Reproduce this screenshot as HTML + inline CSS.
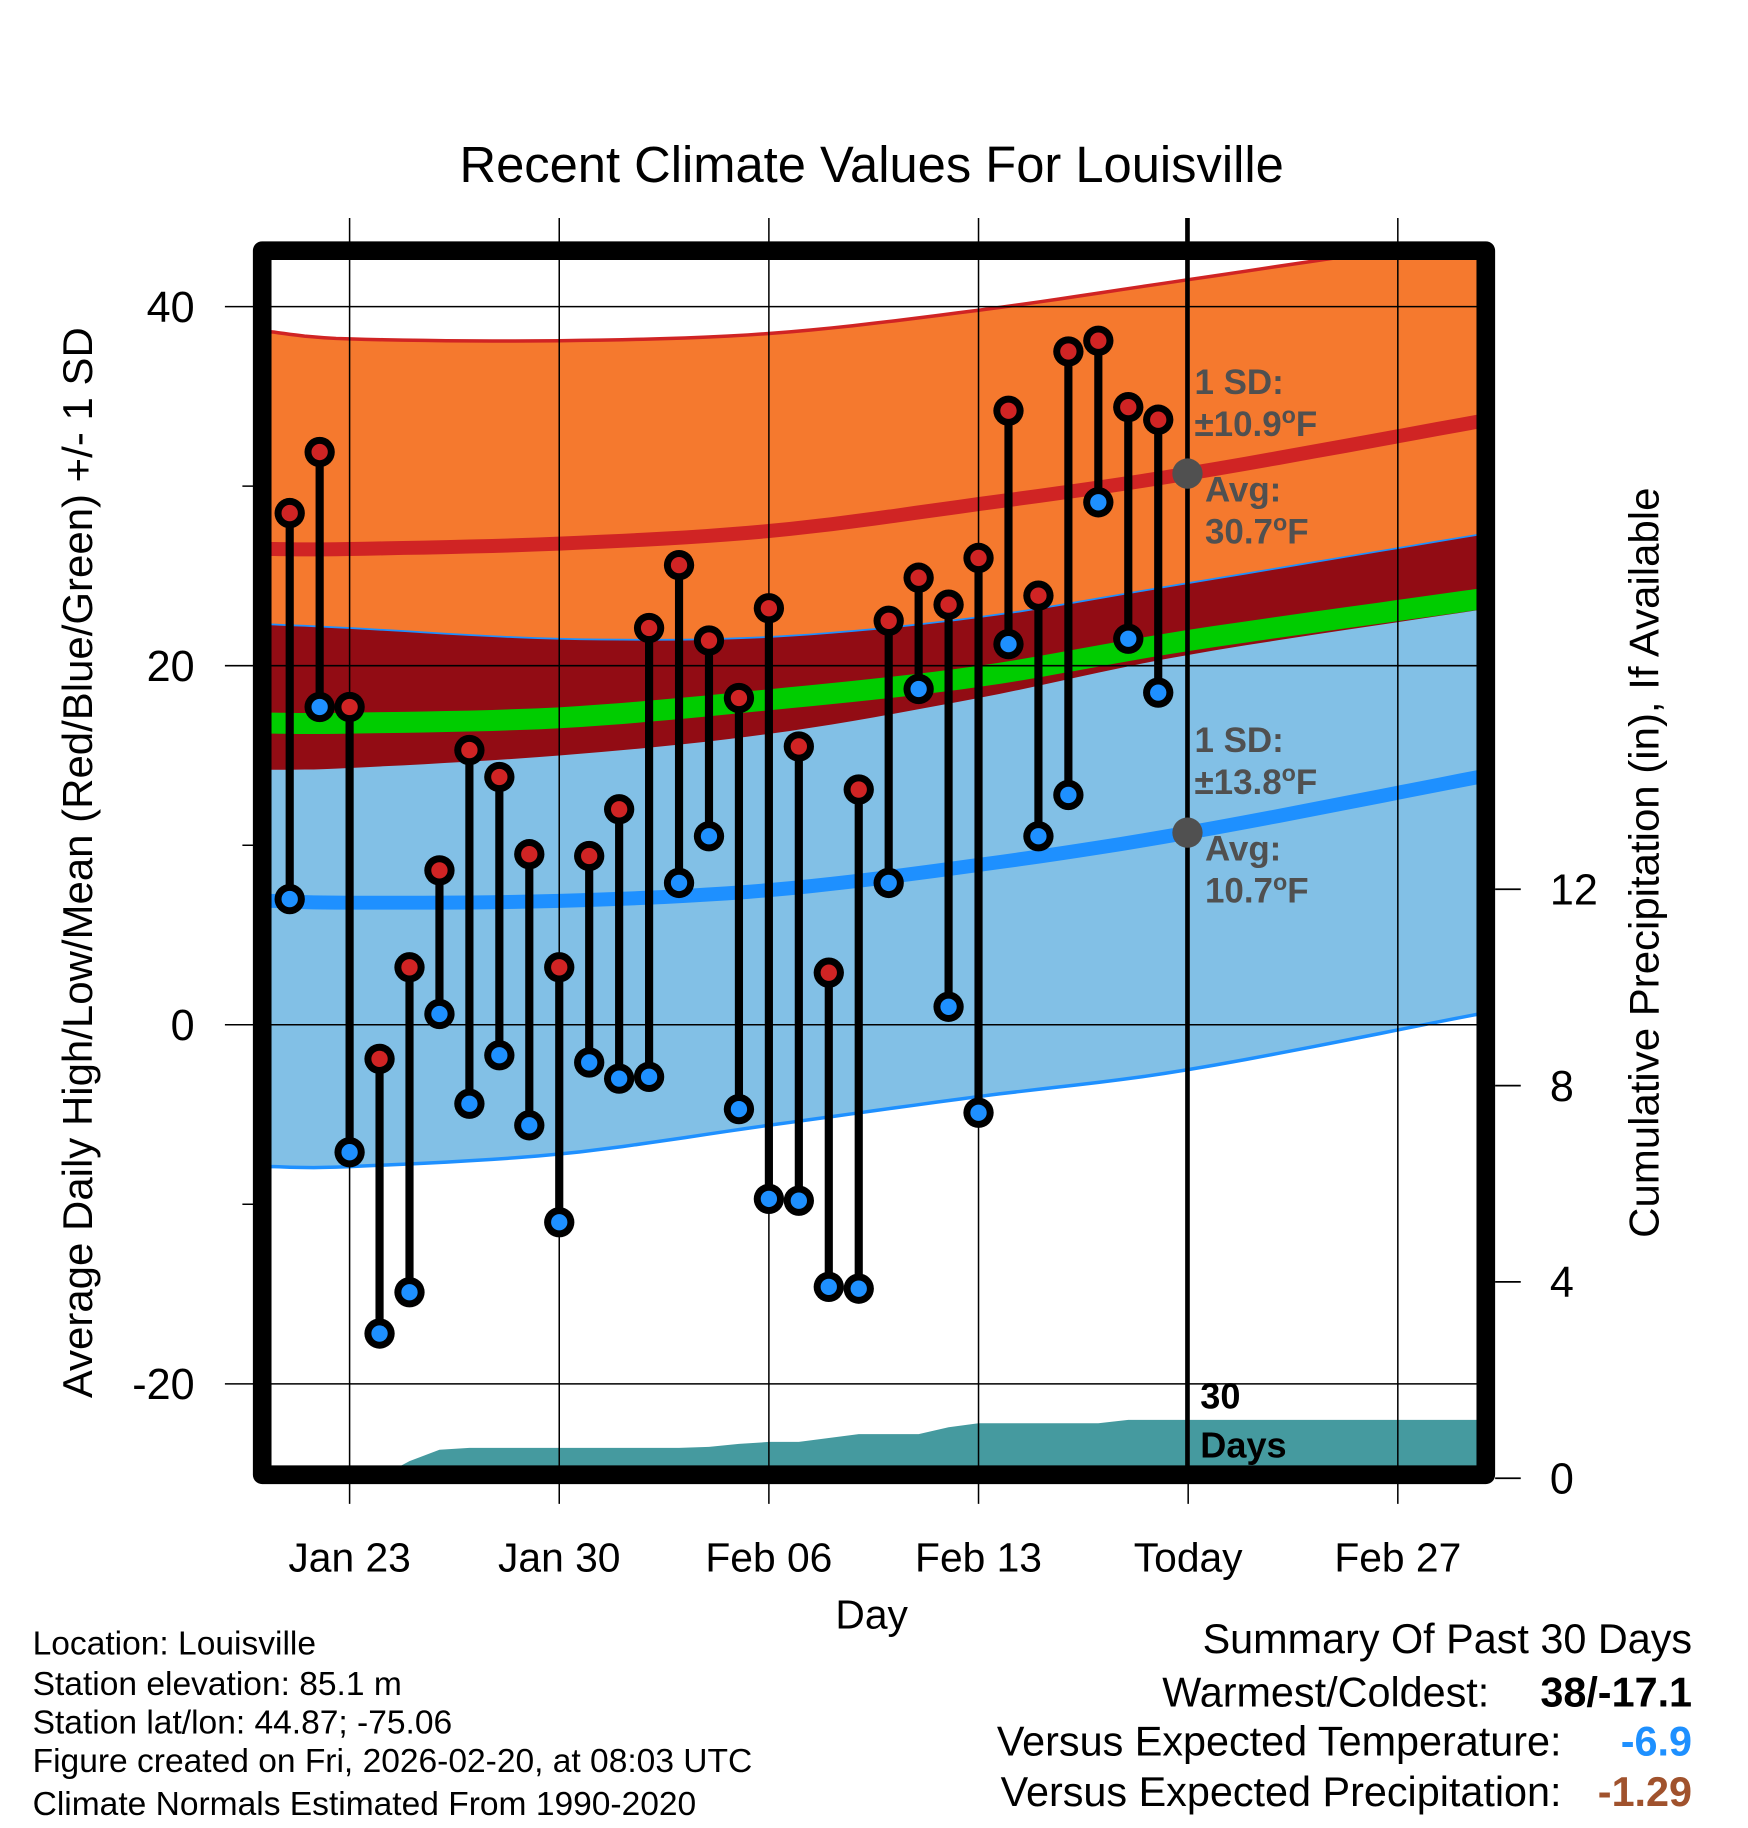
<!DOCTYPE html>
<html><head><meta charset="utf-8"><style>
html,body{margin:0;padding:0;background:#fff;}
svg{display:block;font-family:"Liberation Sans",Arial,sans-serif;}
</style></head><body>
<svg id="chart" width="1748" height="1828" viewBox="0 0 1500 1568" preserveAspectRatio="none" xmlns="http://www.w3.org/2000/svg">
<defs><clipPath id="plotclip"><rect x="232" y="222" width="1036" height="1036"/></clipPath></defs>
<rect width="1500" height="1568" fill="#fff"/>
<text x="748" y="156" font-size="43.5" text-anchor="middle">Recent Climate Values For Louisville</text>
<g id="bands" clip-path="url(#plotclip)"></g>
<g id="grid"></g>
<g id="marks" clip-path="url(#plotclip)"></g>
<g id="annot"></g>
<rect x="225" y="215" width="1050" height="1050" fill="none" stroke="#000" stroke-width="16" stroke-linejoin="round"/>
<g id="axes"></g>
<text transform="translate(79,740) rotate(-90)" font-size="36" text-anchor="middle">Average Daily High/Low/Mean (Red/Blue/Green) +/- 1 SD</text>
<text transform="translate(1423,740) rotate(-90)" font-size="36" text-anchor="middle">Cumulative Precipitation (in), If Available</text>
<text x="748" y="1397" font-size="35" text-anchor="middle">Day</text>
<g font-size="28.8">
<text x="28" y="1419">Location: Louisville</text>
<text x="28" y="1454">Station elevation: 85.1 m</text>
<text x="28" y="1487">Station lat/lon: 44.87; -75.06</text>
<text x="28" y="1520">Figure created on Fri, 2026-02-20, at 08:03 UTC</text>
<text x="28" y="1557">Climate Normals Estimated From 1990-2020</text>
</g>
<g font-size="35.5">
<text x="1452" y="1418" text-anchor="end">Summary Of Past 30 Days</text>
<text x="1278" y="1464" text-anchor="end">Warmest/Coldest:</text>
<text x="1452" y="1464" text-anchor="end" font-weight="bold">38/-17.1</text>
<text x="1340" y="1506" text-anchor="end">Versus Expected Temperature:</text>
<text x="1452" y="1506" text-anchor="end" font-weight="bold" fill="#1e90ff">-6.9</text>
<text x="1340" y="1549" text-anchor="end">Versus Expected Precipitation:</text>
<text x="1452" y="1549" text-anchor="end" font-weight="bold" fill="#a0522d">-1.29</text>
</g>
</svg>
<script>
// day index: Jan 23 = 0
const normDays = [-2.65, 0, 7, 14, 21, 28, 37.7];
const hiTop  = [38.6, 38.2, 38.1, 38.5, 39.8, 41.5, 43.9];
const hiMean = [26.5, 26.5, 26.8, 27.5, 29.0, 30.7, 33.6];
const hiBot  = [14.2, 14.3, 15.0, 16.2, 18.2, 20.6, 23.1];
const loTop  = [22.3, 22.1, 21.5, 21.6, 22.7, 24.6, 27.3];
const meanLine = [16.8, 16.8, 17.1, 18.1, 19.4, 21.4, 23.7];
const loMean = [6.9, 6.8, 6.9, 7.5, 8.9, 10.7, 13.8];
const loBot  = [-7.9, -7.9, -7.2, -5.6, -4.0, -2.5, 0.6];
const obsDays = [-2,-1,0,1,2,3,4,5,6,7,8,9,10,11,12,13,14,15,16,17,18,19,20,21,22,23,24,25,26,27];
const highs = [28.5,31.9,17.7,-1.9,3.2,8.6,15.3,13.8,9.5,3.2,9.4,12.0,22.1,25.6,21.4,18.2,23.2,15.5,2.9,13.1,22.5,24.9,23.4,26.0,34.2,23.9,37.5,38.1,34.4,33.7];
const lows  = [7.0,17.7,-7.1,-17.2,-14.9,0.6,-4.4,-1.7,-5.6,-11.0,-2.1,-3.0,-2.9,7.9,10.5,-4.7,-9.7,-9.8,-14.6,-14.7,7.9,18.7,1.0,-4.9,21.2,10.5,12.8,29.1,21.5,18.5];
const precip = [0,0,0,0.02,0.35,0.58,0.62,0.62,0.62,0.62,0.62,0.62,0.62,0.62,0.64,0.70,0.74,0.74,0.82,0.90,0.90,0.90,1.04,1.12,1.12,1.12,1.12,1.12,1.19,1.19];
const xTickDays = [0,7,14,21,28,35];
const xTickLabels = ["Jan 23","Jan 30","Feb 06","Feb 13","Today","Feb 27"];
const yTicks = [40,20,0,-20];
const yMinor = [30,10,-10];
const y2Ticks = [0,4,8,12];

const NS="http://www.w3.org/2000/svg";
const X = d => 300 + d*25.7;
const Y = v => 879 - v*15.4;
const Y2 = p => 1268 - p*42.1;
function el(tag, attrs, parent){const e=document.createElementNS(NS,tag);for(const k in attrs)e.setAttribute(k,attrs[k]);parent.appendChild(e);return e;}
// Catmull-Rom smoothing through the normal points
function pts(arr){
  const P=normDays.map((d,i)=>[X(d),Y(arr[i])]);
  const out=[];
  for(let i=0;i<P.length-1;i++){
    const p0=P[Math.max(0,i-1)],p1=P[i],p2=P[i+1],p3=P[Math.min(P.length-1,i+2)];
    for(let k=0;k<10;k++){
      const t=k/10,t2=t*t,t3=t2*t;
      const f=(a,b,c,d)=>0.5*((2*b)+(-a+c)*t+(2*a-5*b+4*c-d)*t2+(-a+3*b-3*c+d)*t3);
      out.push(f(p0[0],p1[0],p2[0],p3[0]).toFixed(1)+","+f(p0[1],p1[1],p2[1],p3[1]).toFixed(1));
    }
  }
  out.push(P[P.length-1][0].toFixed(1)+","+P[P.length-1][1].toFixed(1));
  return out;
}
function band(top,bot){return pts(top).concat(pts(bot).reverse()).join(" ");}
const bands=document.getElementById('bands');
let e;
e=el('polygon',{points:band(hiTop,hiBot),fill:'#f5792e'},bands);


e=el('polyline',{points:pts(hiTop).join(" "),fill:'none',stroke:'#d02424','stroke-width':3},bands);


e=el('polygon',{points:band(loTop,loBot),fill:'#82c0e6'},bands);


e=el('polygon',{points:band(loTop,hiBot),fill:'#920c14'},bands);


e=el('polyline',{points:pts(loTop).join(" "),fill:'none',stroke:'#1e90ff','stroke-width':1.5},bands);


e=el('polyline',{points:pts(loBot).join(" "),fill:'none',stroke:'#1e90ff','stroke-width':3},bands);


e=el('polyline',{points:pts(meanLine).join(" "),fill:'none',stroke:'#00cc00','stroke-width':18},bands);


e=el('polyline',{points:pts(hiMean).join(" "),fill:'none',stroke:'#d02424','stroke-width':12},bands);


e=el('polyline',{points:pts(loMean).join(" "),fill:'none',stroke:'#1e90ff','stroke-width':12},bands);


// precip area
let pp=[X(obsDays[0])+","+Y2(0)];
obsDays.forEach((d,i)=>pp.push(X(d)+","+Y2(precip[i])));
pp.push("1270,"+Y2(precip[precip.length-1]));
pp.push("1270,"+Y2(0));
e=el('polygon',{points:pp.join(" "),fill:'#459a9f'},bands);



// grid
const grid=document.getElementById('grid');
xTickDays.forEach((d,i)=>{
  const g=el('line',{x1:X(d),x2:X(d),y1:187,y2:1290,stroke:'#000','stroke-width':1.3},grid);
  
  
});
yTicks.forEach(v=>{
  const g=el('line',{x1:193,x2:1268,y1:Y(v),y2:Y(v),stroke:'#000','stroke-width':1.3},grid);
  
  
});
yMinor.forEach(v=>{
  const g=el('line',{x1:208,x2:232,y1:Y(v),y2:Y(v),stroke:'#000','stroke-width':1.3},grid);
  
  
});
e=el('line',{x1:1019,x2:1019,y1:187,y2:1260,stroke:'#000','stroke-width':4},grid);



// marks
const marks=document.getElementById('marks');
obsDays.forEach((d,i)=>{
  const x=X(d);
  const s=el('line',{x1:x,x2:x,y1:Y(highs[i]),y2:Y(lows[i]),stroke:'#000','stroke-width':7},marks);
  
  
});
obsDays.forEach((d,i)=>{
  const x=X(d);
  [[highs[i],'#d02424','high-point'],[lows[i],'#1e90ff','low-point']].forEach(([v,c,n])=>{
    const g=el('g',{},marks);
    
    
    el('circle',{cx:x,cy:Y(v),r:13,fill:'#000'},g);
    el('circle',{cx:x,cy:Y(v),r:7,fill:c},g);
  });
});

// annotations
const an=document.getElementById('annot');
function txt(x,y,s,attrs,name){const t=el('text',Object.assign({x:x,y:y},attrs),an);t.textContent=s;return t;}
const ga={'font-size':30,'font-weight':'bold',fill:'#505050'};
[[30.7,10.9,338,'high'],[10.7,13.8,645,'low']].forEach(([avg,sd,y0,n])=>{
  const c=el('circle',{cx:1019,cy:Y(avg),r:13,fill:'#505050'},an);
  
  
  txt(1025,y0,'1 SD:',ga,n+'-sd-label');
  const t=txt(1025,y0+36,'±'+sd.toFixed(1),ga,n+'-sd-value');
  const ts=el('tspan',{dy:-11,'font-size':20},t);ts.textContent='o';
  const tf=el('tspan',{dy:11},t);tf.textContent='F';
  txt(1034,Y(avg)+24,'Avg:',ga,n+'-avg-label');
  const t2=txt(1034,Y(avg)+60,avg.toFixed(1),ga,n+'-avg-value');
  const s2=el('tspan',{dy:-11,'font-size':20},t2);s2.textContent='o';
  const f2=el('tspan',{dy:11},t2);f2.textContent='F';
});
txt(1030,1208,'30',{'font-size':31,'font-weight':'bold'},'days-count');
txt(1030,1250,'Days',{'font-size':31,'font-weight':'bold'},'days-label');

// axes labels
const ax=document.getElementById('axes');
yTicks.forEach(v=>{
  const t=el('text',{x:167,y:Y(v)+13,'font-size':37,'text-anchor':'end'},ax);
  t.textContent=String(v);
  
  
});
y2Ticks.forEach(p=>{
  const l=el('line',{x1:1283,x2:1305,y1:Y2(p),y2:Y2(p),stroke:'#000','stroke-width':1.5},ax);
  
  
  const t=el('text',{x:1330,y:Y2(p)+13,'font-size':37},ax);
  t.textContent=String(p);
  
  
});
xTickDays.forEach((d,i)=>{
  const t=el('text',{x:X(d),y:1348,'font-size':35,'text-anchor':'middle'},ax);
  t.textContent=xTickLabels[i];
  
  
});
</script>
</body></html>
